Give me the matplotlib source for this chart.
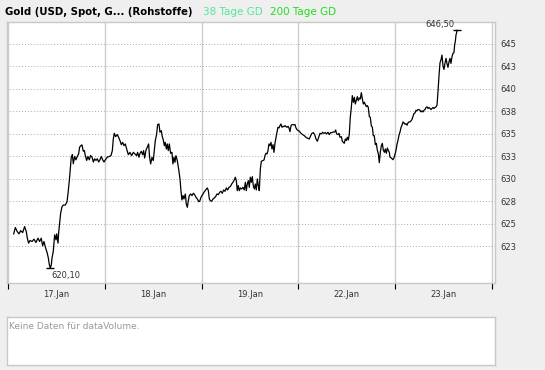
import numpy as np
import matplotlib
matplotlib.use('Agg')
import matplotlib.pyplot as plt

day_labels = ['17.Jan', '18.Jan', '19.Jan', '22.Jan', '23.Jan']
y_ticks = [622.5, 625, 627.5, 630, 632.5, 635, 637.5, 640, 642.5, 645]
y_tick_labels = ['623', '625', '628', '630', '633', '635', '638', '640', '643', '645']

# time in trading days since 17.Jan session start, price in USD
t_17 = [0.059, 0.076, 0.096, 0.114, 0.131, 0.152, 0.172, 0.189, 0.200, 0.213,
        0.227, 0.248, 0.269, 0.289, 0.310, 0.327, 0.344, 0.358, 0.372, 0.386,
        0.406, 0.417, 0.427, 0.437, 0.448, 0.455, 0.468, 0.482, 0.496, 0.503,
        0.517, 0.523, 0.534, 0.544, 0.558, 0.572, 0.592, 0.610, 0.620, 0.634,
        0.644, 0.654, 0.665, 0.675, 0.689, 0.702, 0.716, 0.730, 0.740, 0.754,
        0.764, 0.778, 0.789, 0.799, 0.813, 0.826, 0.840, 0.854, 0.868, 0.882,
        0.895, 0.909, 0.923, 0.937, 0.950, 0.964, 0.978, 0.992]
p_17 = [623.90, 624.60, 624.15, 623.90, 624.26, 624.04, 624.71, 624.15, 623.42, 622.87,
        623.16, 623.05, 623.31, 622.94, 623.42, 623.05, 623.42, 622.57, 623.05, 622.43,
        621.76, 621.21, 620.48, 620.10, 620.48, 621.21, 621.95, 623.79, 623.24, 623.90,
        622.87, 623.97, 625.07, 626.18, 626.91, 627.10, 627.10, 627.46, 628.38, 629.85,
        631.14, 632.43, 632.72, 631.69, 632.50, 632.13, 632.50, 632.79, 633.53, 633.71,
        633.79, 633.09, 633.16, 632.61, 632.06, 632.50, 632.13, 632.61, 632.43, 631.88,
        632.24, 632.06, 632.24, 631.88, 632.13, 632.50, 632.13, 631.88]

t_18 = [1.006, 1.026, 1.043, 1.064, 1.078, 1.088, 1.098, 1.112, 1.129, 1.143,
        1.157, 1.171, 1.185, 1.198, 1.212, 1.226, 1.243, 1.260, 1.277, 1.295,
        1.312, 1.329, 1.339, 1.353, 1.364, 1.377, 1.391, 1.401, 1.412, 1.426,
        1.439, 1.453, 1.463, 1.474, 1.488, 1.501, 1.512, 1.522, 1.536, 1.546,
        1.560, 1.570, 1.584, 1.594, 1.605, 1.615, 1.625, 1.636, 1.646, 1.656,
        1.667, 1.680, 1.694, 1.704, 1.715, 1.725, 1.735, 1.749, 1.763, 1.777,
        1.787, 1.797, 1.808, 1.818, 1.832, 1.842, 1.853, 1.863, 1.873, 1.887,
        1.901, 1.915, 1.928, 1.942, 1.956, 1.970, 1.980, 1.994]
p_18 = [632.13, 632.43, 632.48, 632.59, 633.15, 634.44, 635.07, 634.70, 634.93, 634.63,
        634.26, 633.81, 634.07, 633.70, 633.89, 633.33, 632.70, 632.96, 632.59, 632.96,
        632.78, 632.59, 632.96, 632.41, 632.85, 633.07, 632.70, 633.15, 632.33, 633.22,
        633.52, 633.89, 632.41, 631.67, 632.41, 632.04, 633.15, 634.26, 635.00, 636.04,
        636.11, 635.19, 635.37, 634.70, 634.33, 633.70, 634.07, 633.33, 633.89, 633.15,
        633.89, 632.85, 632.96, 631.67, 632.41, 631.85, 632.59, 632.04, 631.11, 630.00,
        628.70, 627.67, 628.15, 627.78, 628.33, 627.22, 626.85, 627.59, 628.15, 628.33,
        628.15, 628.41, 628.26, 627.96, 627.78, 627.48, 627.52, 627.96]

t_19 = [2.008, 2.025, 2.042, 2.059, 2.070, 2.080, 2.090, 2.104, 2.118, 2.132,
        2.145, 2.159, 2.173, 2.187, 2.200, 2.214, 2.228, 2.242, 2.256, 2.269,
        2.283, 2.297, 2.311, 2.324, 2.338, 2.348, 2.359, 2.369, 2.379, 2.390,
        2.400, 2.414, 2.428, 2.441, 2.452, 2.462, 2.472, 2.483, 2.493, 2.503,
        2.514, 2.524, 2.534, 2.545, 2.555, 2.565, 2.576, 2.586, 2.596, 2.607,
        2.617, 2.631, 2.645, 2.655, 2.665, 2.676, 2.686, 2.696, 2.707, 2.717,
        2.727, 2.738, 2.748, 2.758, 2.769, 2.779, 2.789, 2.800, 2.810, 2.820,
        2.831, 2.841, 2.851, 2.862, 2.872, 2.882, 2.893, 2.903, 2.913, 2.924,
        2.934, 2.944, 2.954, 2.965, 2.975, 2.989]
p_19 = [628.22, 628.52, 628.78, 629.00, 628.70, 627.78, 627.59, 627.52, 627.78, 627.89,
        628.04, 628.33, 628.26, 628.52, 628.63, 628.41, 628.78, 628.63, 629.00, 628.78,
        629.07, 629.15, 629.44, 629.63, 629.89, 630.19, 629.81, 628.70, 629.26, 628.70,
        629.00, 628.89, 629.07, 628.78, 629.63, 628.70, 629.44, 629.81, 629.07, 630.19,
        629.63, 630.26, 629.26, 628.89, 629.44, 628.78, 630.00, 629.26, 628.70, 631.11,
        631.96, 632.04, 632.11, 632.59, 632.85, 632.78, 633.15, 633.89, 633.70, 634.07,
        633.33, 633.81, 632.96, 633.96, 634.63, 635.19, 635.74, 635.67, 635.93, 636.11,
        635.74, 635.85, 635.81, 635.93, 635.81, 635.74, 635.85, 635.67, 635.26, 635.93,
        636.04, 636.04, 636.00, 636.04, 635.67, 635.44]

t_22 = [3.010, 3.027, 3.044, 3.061, 3.078, 3.096, 3.113, 3.127, 3.140, 3.154,
        3.168, 3.182, 3.196, 3.209, 3.223, 3.237, 3.251, 3.264, 3.278, 3.292,
        3.306, 3.320, 3.333, 3.347, 3.361, 3.375, 3.385, 3.395, 3.409, 3.419,
        3.430, 3.444, 3.454, 3.464, 3.474, 3.485, 3.495, 3.505, 3.516, 3.526,
        3.536, 3.547, 3.557, 3.568, 3.578, 3.588, 3.599, 3.609, 3.619, 3.630,
        3.640, 3.650, 3.661, 3.671, 3.681, 3.692, 3.702, 3.712, 3.722, 3.733,
        3.743, 3.753, 3.764, 3.774, 3.784, 3.795, 3.805, 3.815, 3.826, 3.836,
        3.846, 3.857, 3.867, 3.877, 3.888, 3.898, 3.908, 3.919, 3.929, 3.939,
        3.946, 3.957, 3.967, 3.977, 3.988, 3.998]
p_22 = [635.30, 635.07, 634.93, 634.81, 634.63, 634.52, 634.44, 634.81, 635.07, 635.15,
        634.93, 634.44, 634.19, 634.63, 635.07, 635.00, 635.19, 635.07, 635.15, 635.00,
        635.19, 634.93, 635.15, 635.15, 635.22, 635.22, 635.44, 635.00, 634.93, 635.07,
        634.63, 634.70, 634.19, 634.07, 633.96, 634.44, 634.26, 634.63, 634.33, 635.00,
        636.85, 637.96, 639.26, 638.52, 639.07, 638.33, 638.78, 639.15, 638.70, 639.00,
        638.89, 639.59, 638.89, 638.33, 638.52, 638.26, 638.04, 638.15, 637.96, 636.93,
        636.85, 635.93, 635.74, 634.81, 634.81, 633.81, 633.96, 633.22, 632.78, 631.81,
        632.96, 633.70, 633.96, 633.22, 632.96, 633.33, 632.85, 633.44, 633.15, 632.96,
        632.43, 632.36, 632.25, 632.14, 632.36, 632.73]

t_23 = [4.008, 4.019, 4.029, 4.039, 4.050, 4.060, 4.070, 4.081, 4.091, 4.101,
        4.111, 4.122, 4.132, 4.142, 4.153, 4.163, 4.173, 4.184, 4.194, 4.205,
        4.215, 4.225, 4.236, 4.246, 4.256, 4.267, 4.277, 4.287, 4.298, 4.308,
        4.318, 4.329, 4.339, 4.349, 4.360, 4.370, 4.380, 4.391, 4.401, 4.411,
        4.422, 4.432, 4.442, 4.453, 4.463, 4.473, 4.483, 4.494, 4.504, 4.514,
        4.525, 4.535, 4.545, 4.556, 4.566, 4.576, 4.587, 4.597, 4.607, 4.614,
        4.621, 4.628, 4.635, 4.638]
p_23 = [633.18, 633.85, 634.29, 634.85, 635.22, 635.71, 635.97, 636.34, 636.23, 636.08,
        636.15, 635.97, 636.23, 636.34, 636.34, 636.45, 636.60, 636.97, 637.27, 637.34,
        637.64, 637.57, 637.71, 637.71, 637.64, 637.45, 637.57, 637.45, 637.64, 637.71,
        637.94, 638.01, 637.83, 637.94, 637.83, 637.71, 637.83, 637.94, 637.83, 637.94,
        638.01, 638.20, 639.68, 641.54, 642.92, 643.22, 643.77, 642.55, 642.17, 642.84,
        643.40, 642.84, 642.40, 643.03, 643.40, 642.84, 643.59, 643.96, 644.03, 644.89,
        645.26, 646.00, 646.26, 646.50]

t = np.concatenate([t_17, t_18, t_19, t_22, t_23])
p = np.concatenate([p_17, p_18, p_19, p_22, p_23])

W, H = 545, 370
fig = plt.figure(figsize=(W / 100, H / 100), dpi=100, facecolor='#efefef')
ax = fig.add_axes([7 / W, 87 / H, 488 / W, 261 / H])
ax.set_facecolor('white')
ax.plot(t, p, color='black', lw=0.9, zorder=3)

ax.set_xlim(-0.01, 5.031)
ax.set_ylim(618.44, 647.44)

# day boundaries as major ticks, labels in the middle of each day
ax.set_xticks(range(6))
ax.set_xticklabels([])
ax.set_xticks([i + 0.5 for i in range(5)], minor=True)
ax.set_xticklabels(day_labels, minor=True)
ax.tick_params(axis='x', which='major', length=4, width=0.8, color='black', direction='out')
ax.tick_params(axis='x', which='minor', length=0, pad=5, labelsize=6, labelcolor='#333333')

ax.yaxis.tick_right()
ax.set_yticks(y_ticks)
ax.set_yticklabels(y_tick_labels)
ax.tick_params(axis='y', length=0, pad=4, labelsize=6, labelcolor='#333333')

ax.xaxis.grid(True, which='major', color='#cccccc', lw=1, ls='-')
ax.yaxis.grid(True, color='#aaaaaa', lw=0.7, ls=(0, (1, 2)))
ax.set_axisbelow(True)
for s in ax.spines.values():
    s.set_color('#c8c8c8')
    s.set_linewidth(1)

# high / low markers
i_max, i_min = np.argmax(p), np.argmin(p)
ax.plot(t[i_max], p[i_max], marker='_', ms=6, mew=1, color='black', zorder=4)
ax.plot(t[i_min], p[i_min], marker='_', ms=6, mew=1, color='black', zorder=4)
ax.annotate(f'{p[i_max]:.2f}'.replace('.', ','), (t[i_max], p[i_max]),
            xytext=(-2, 1), textcoords='offset points', ha='right', va='bottom',
            fontsize=6, color='#333333')
ax.annotate(f'{p[i_min]:.2f}'.replace('.', ','), (t[i_min], p[i_min]),
            xytext=(1, -2), textcoords='offset points', ha='left', va='top',
            fontsize=6, color='#333333')

# header
fig.text(5 / W, 1 - 12 / H, 'Gold (USD, Spot, G... (Rohstoffe)', fontsize=7.3, fontweight='bold',
         color='black', va='center', ha='left')
fig.text(203 / W, 1 - 12 / H, '38 Tage GD', fontsize=7.5, color='#55e89a', va='center', ha='left')
fig.text(270 / W, 1 - 12 / H, '200 Tage GD', fontsize=7.5, color='#22dd22', va='center', ha='left')

# volume panel
ax2 = fig.add_axes([7 / W, 5 / H, 488 / W, 48 / H])
ax2.set_facecolor('white')
ax2.set_xticks([])
ax2.set_yticks([])
for s in ax2.spines.values():
    s.set_color('#c8c8c8')
    s.set_linewidth(1)
ax2.text(0.004, 0.8, 'Keine Daten für dataVolume.', transform=ax2.transAxes,
         fontsize=6.5, color='#999999', va='center', ha='left')

fig.savefig('out.png', dpi=100, facecolor=fig.get_facecolor())
